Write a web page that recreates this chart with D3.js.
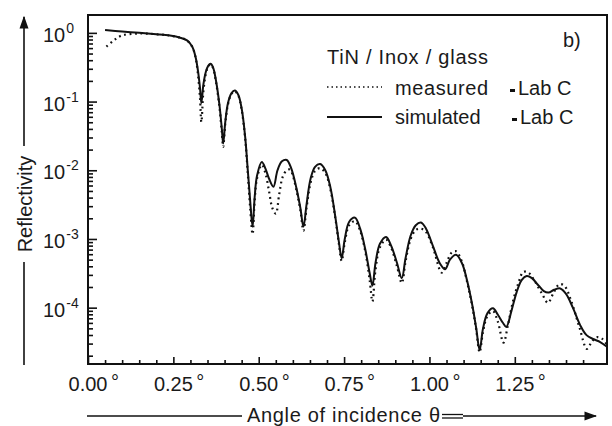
<!DOCTYPE html>
<html>
<head>
<meta charset="utf-8">
<title>Reflectivity TiN / Inox / glass</title>
<script src="https://d3js.org/d3.v7.min.js"></script>
<style>
  body { margin: 0; background: #fff; }
  text { font-family: "Liberation Sans", Arial, Helvetica, sans-serif; fill: #1a1a1a; }
</style>
</head>
<body>
<svg width="612" height="426"></svg>
<script>
// angle (deg) and log10(reflectivity)
var simAngle = [0.05,0.10,0.15,0.20,0.24,0.27,0.29,0.305,0.315,0.322,0.328,0.332,0.338,0.345,0.352,0.359,0.366,0.375,0.385,0.392,0.396,0.402,0.410,0.420,0.430,0.440,0.450,0.460,0.468,0.475,0.482,0.488,0.495,0.509,0.520,0.530,0.543,0.555,0.568,0.582,0.595,0.610,0.622,0.631,0.640,0.652,0.665,0.680,0.695,0.710,0.725,0.735,0.743,0.752,0.765,0.782,0.797,0.812,0.825,0.833,0.842,0.855,0.873,0.888,0.905,0.919,0.930,0.945,0.960,0.975,0.990,1.010,1.030,1.046,1.060,1.078,1.095,1.110,1.125,1.137,1.147,1.157,1.170,1.186,1.200,1.215,1.225,1.240,1.255,1.270,1.285,1.300,1.320,1.335,1.349,1.365,1.383,1.400,1.420,1.441,1.460,1.481,1.500,1.52];
var simLogR = [0.04,0.02,0.00,-0.02,-0.04,-0.07,-0.11,-0.20,-0.35,-0.55,-0.80,-1.02,-0.75,-0.57,-0.48,-0.45,-0.50,-0.70,-1.05,-1.40,-1.61,-1.30,-1.02,-0.88,-0.84,-0.90,-1.10,-1.50,-2.00,-2.45,-2.82,-2.40,-2.08,-1.88,-1.98,-2.12,-2.24,-2.00,-1.87,-1.85,-1.97,-2.25,-2.55,-2.82,-2.50,-2.12,-1.95,-1.91,-2.00,-2.25,-2.70,-3.05,-3.28,-3.00,-2.75,-2.69,-2.85,-3.15,-3.50,-3.68,-3.35,-3.07,-2.97,-3.10,-3.35,-3.57,-3.28,-2.95,-2.80,-2.76,-2.85,-3.10,-3.35,-3.44,-3.30,-3.23,-3.35,-3.60,-3.95,-4.30,-4.62,-4.30,-4.08,-4.01,-4.10,-4.22,-4.28,-4.05,-3.78,-3.60,-3.54,-3.57,-3.68,-3.76,-3.78,-3.74,-3.72,-3.80,-4.00,-4.25,-4.40,-4.46,-4.50,-4.57];

var measAngle = [0.054,0.073,0.098,0.15,0.20,0.24,0.27,0.29,0.305,0.315,0.322,0.328,0.332,0.338,0.345,0.352,0.359,0.366,0.375,0.385,0.392,0.396,0.402,0.410,0.420,0.430,0.440,0.450,0.460,0.468,0.475,0.482,0.488,0.495,0.509,0.520,0.530,0.540,0.550,0.560,0.570,0.582,0.592,0.600,0.610,0.622,0.631,0.640,0.652,0.665,0.680,0.695,0.710,0.725,0.735,0.743,0.752,0.765,0.782,0.797,0.812,0.825,0.833,0.842,0.855,0.873,0.888,0.905,0.919,0.930,0.945,0.960,0.975,0.990,1.010,1.036,1.050,1.065,1.078,1.095,1.110,1.125,1.137,1.147,1.157,1.170,1.186,1.200,1.217,1.230,1.245,1.260,1.275,1.290,1.310,1.330,1.347,1.362,1.380,1.395,1.415,1.440,1.461,1.475,1.490,1.505,1.52];
var measLogR = [-0.20,-0.12,-0.04,-0.01,-0.02,-0.04,-0.07,-0.11,-0.20,-0.36,-0.60,-0.95,-1.30,-0.85,-0.60,-0.49,-0.46,-0.51,-0.72,-1.08,-1.45,-1.66,-1.32,-1.04,-0.89,-0.85,-0.91,-1.12,-1.52,-2.05,-2.55,-2.93,-2.45,-2.12,-1.92,-2.05,-2.30,-2.55,-2.63,-2.35,-2.10,-2.00,-1.99,-2.08,-2.28,-2.58,-2.88,-2.55,-2.18,-2.01,-1.97,-2.04,-2.28,-2.72,-3.08,-3.32,-3.05,-2.80,-2.74,-2.88,-3.18,-3.60,-3.91,-3.45,-3.12,-3.01,-3.13,-3.40,-3.64,-3.33,-3.00,-2.87,-2.85,-2.90,-3.12,-3.49,-3.35,-3.20,-3.18,-3.33,-3.62,-3.97,-4.32,-4.65,-4.35,-4.12,-4.05,-4.20,-4.51,-4.25,-3.90,-3.65,-3.48,-3.49,-3.63,-3.80,-3.93,-3.80,-3.66,-3.68,-3.90,-4.30,-4.60,-4.50,-4.43,-4.45,-4.54];

var xTickValues = [0, 0.25, 0.5, 0.75, 1.0, 1.25];
var xTickLabels = ["0.00", "0.25", "0.50", "0.75", "1.00", "1.25"];
var yTickExps = [0, -1, -2, -3, -4];

var svg = d3.select("svg");
var L = 88, R = 607, T = 15, B = 364;

var x = d3.scaleLinear().domain([0, 1.52]).range([L, R]);
var y = d3.scaleLog().domain([Math.pow(10, -4.82), Math.pow(10, 0.26)]).range([B, T]);

// minor y ticks (2..9 of each decade)
var minorY = [];
for (var e = -5; e <= 0; e++) {
    for (var m = 2; m <= 9; m++) {
        var v = m * Math.pow(10, e);
        if (v > y.domain()[0] && v < y.domain()[1]) minorY.push(v);
    }
}
var majorY = yTickExps.map(function(k) { return Math.pow(10, k); });

svg.append("g").attr("transform", "translate(" + L + ",0)")
    .call(d3.axisLeft(y).tickValues(minorY).tickSize(-5).tickFormat(""))
    .call(function(g) { g.select(".domain").remove(); });
svg.append("g").attr("transform", "translate(" + L + ",0)")
    .call(d3.axisLeft(y).tickValues(majorY).tickSize(-9).tickFormat(""))
    .call(function(g) { g.select(".domain").remove(); });

// x ticks
var minorX = d3.range(0.05, 1.52, 0.05).filter(function(v) { return Math.abs(v / 0.25 - Math.round(v / 0.25)) > 0.01; });
svg.append("g").attr("transform", "translate(0," + B + ")")
    .call(d3.axisBottom(x).tickValues(minorX).tickSize(-4).tickFormat(""))
    .call(function(g) { g.select(".domain").remove(); });
svg.append("g").attr("transform", "translate(0," + B + ")")
    .call(d3.axisBottom(x).tickValues(xTickValues).tickSize(-7).tickFormat(""))
    .call(function(g) { g.select(".domain").remove(); });

svg.selectAll(".tick line").attr("stroke", "#111").attr("stroke-width", 1.6);

// frame
svg.append("rect").attr("x", L).attr("y", T).attr("width", R - L).attr("height", B - T)
    .attr("fill", "none").attr("stroke", "#111").attr("stroke-width", 2);

// x tick labels
xTickValues.forEach(function(v, i) {
    svg.append("text").attr("x", x(v)).attr("y", 391).attr("text-anchor", "middle")
        .attr("font-size", 20).text(xTickLabels[i]);
    svg.append("text").attr("x", x(v) + 23).attr("y", 389)
        .attr("font-size", 20).text("°");
});

// y tick labels 10^k
yTickExps.forEach(function(k) {
    var t = svg.append("text").attr("x", 43).attr("y", y(Math.pow(10, k)) + 9).attr("font-size", 20);
    t.append("tspan").text("10");
    t.append("tspan").attr("dy", -9).attr("dx", 1).attr("font-size", 14).text(k === 0 ? "0" : "-" + (-k));
});

// curves
var clip = svg.append("clipPath").attr("id", "plotclip");
clip.append("rect").attr("x", L).attr("y", T).attr("width", R - L).attr("height", B - T);

var line = d3.line()
    .x(function(d) { return x(d[0]); })
    .y(function(d) { return y(Math.pow(10, d[1])); })
    .curve(d3.curveCatmullRom.alpha(0.5));

var meas = measAngle.map(function(a, i) { return [a, measLogR[i]]; });
var sim = simAngle.map(function(a, i) { return [a, simLogR[i]]; });

svg.append("path").datum(meas).attr("d", line).attr("clip-path", "url(#plotclip)")
    .attr("fill", "none").attr("stroke", "#111").attr("stroke-width", 2.2)
    .attr("stroke-dasharray", "1.8 3.6");
svg.append("path").datum(sim).attr("d", line).attr("clip-path", "url(#plotclip)")
    .attr("fill", "none").attr("stroke", "#111").attr("stroke-width", 2);

// legend
svg.append("text").attr("x", 563).attr("y", 47).attr("font-size", 20).text("b)");
svg.append("text").attr("x", 327).attr("y", 64).attr("font-size", 20)
    .attr("textLength", 161).text("TiN / Inox / glass");
svg.append("line").attr("x1", 327).attr("x2", 382).attr("y1", 87).attr("y2", 87)
    .attr("stroke", "#111").attr("stroke-width", 1.6).attr("stroke-dasharray", "1.5 3");
svg.append("text").attr("x", 395).attr("y", 95).attr("font-size", 20)
    .attr("textLength", 93).text("measured");
svg.append("rect").attr("x", 510).attr("y", 89).attr("width", 5).attr("height", 3).attr("fill", "#111");
svg.append("text").attr("x", 518).attr("y", 95).attr("font-size", 20).text("Lab C");
svg.append("line").attr("x1", 327).attr("x2", 382).attr("y1", 117).attr("y2", 117)
    .attr("stroke", "#111").attr("stroke-width", 1.8);
svg.append("text").attr("x", 395).attr("y", 124).attr("font-size", 20).text("simulated");
svg.append("rect").attr("x", 512).attr("y", 118).attr("width", 5).attr("height", 3).attr("fill", "#111");
svg.append("text").attr("x", 520).attr("y", 124).attr("font-size", 20).text("Lab C");

// axis titles with arrows
var defs = svg.append("defs");
defs.append("marker").attr("id", "arrow").attr("viewBox", "0 0 10 10")
    .attr("refX", 9).attr("refY", 5).attr("markerWidth", 8).attr("markerHeight", 8)
    .attr("orient", "auto")
    .append("path").attr("d", "M0,1.5 L10,5 L0,8.5 Z").attr("fill", "#111");

svg.append("line").attr("x1", 24).attr("x2", 24).attr("y1", 365).attr("y2", 262)
    .attr("stroke", "#111").attr("stroke-width", 1.6);
svg.append("line").attr("x1", 24).attr("x2", 24).attr("y1", 146).attr("y2", 17)
    .attr("stroke", "#111").attr("stroke-width", 1.6).attr("marker-end", "url(#arrow)");
svg.append("text").attr("transform", "translate(32,204) rotate(-90)")
    .attr("text-anchor", "middle").attr("font-size", 20).text("Reflectivity");

svg.append("line").attr("x1", 87).attr("x2", 242).attr("y1", 416).attr("y2", 416)
    .attr("stroke", "#111").attr("stroke-width", 1.6);
svg.append("text").attr("x", 247).attr("y", 422).attr("font-size", 20)
    .attr("textLength", 193).text("Angle of incidence θ");
svg.append("line").attr("x1", 442).attr("x2", 463).attr("y1", 414.5).attr("y2", 414.5)
    .attr("stroke", "#111").attr("stroke-width", 1.3);
svg.append("line").attr("x1", 442).attr("x2", 463).attr("y1", 418).attr("y2", 418)
    .attr("stroke", "#111").attr("stroke-width", 1.3);
svg.append("line").attr("x1", 463).attr("x2", 596).attr("y1", 416).attr("y2", 416)
    .attr("stroke", "#111").attr("stroke-width", 1.6).attr("marker-end", "url(#arrow)");
</script>
</body>
</html>
